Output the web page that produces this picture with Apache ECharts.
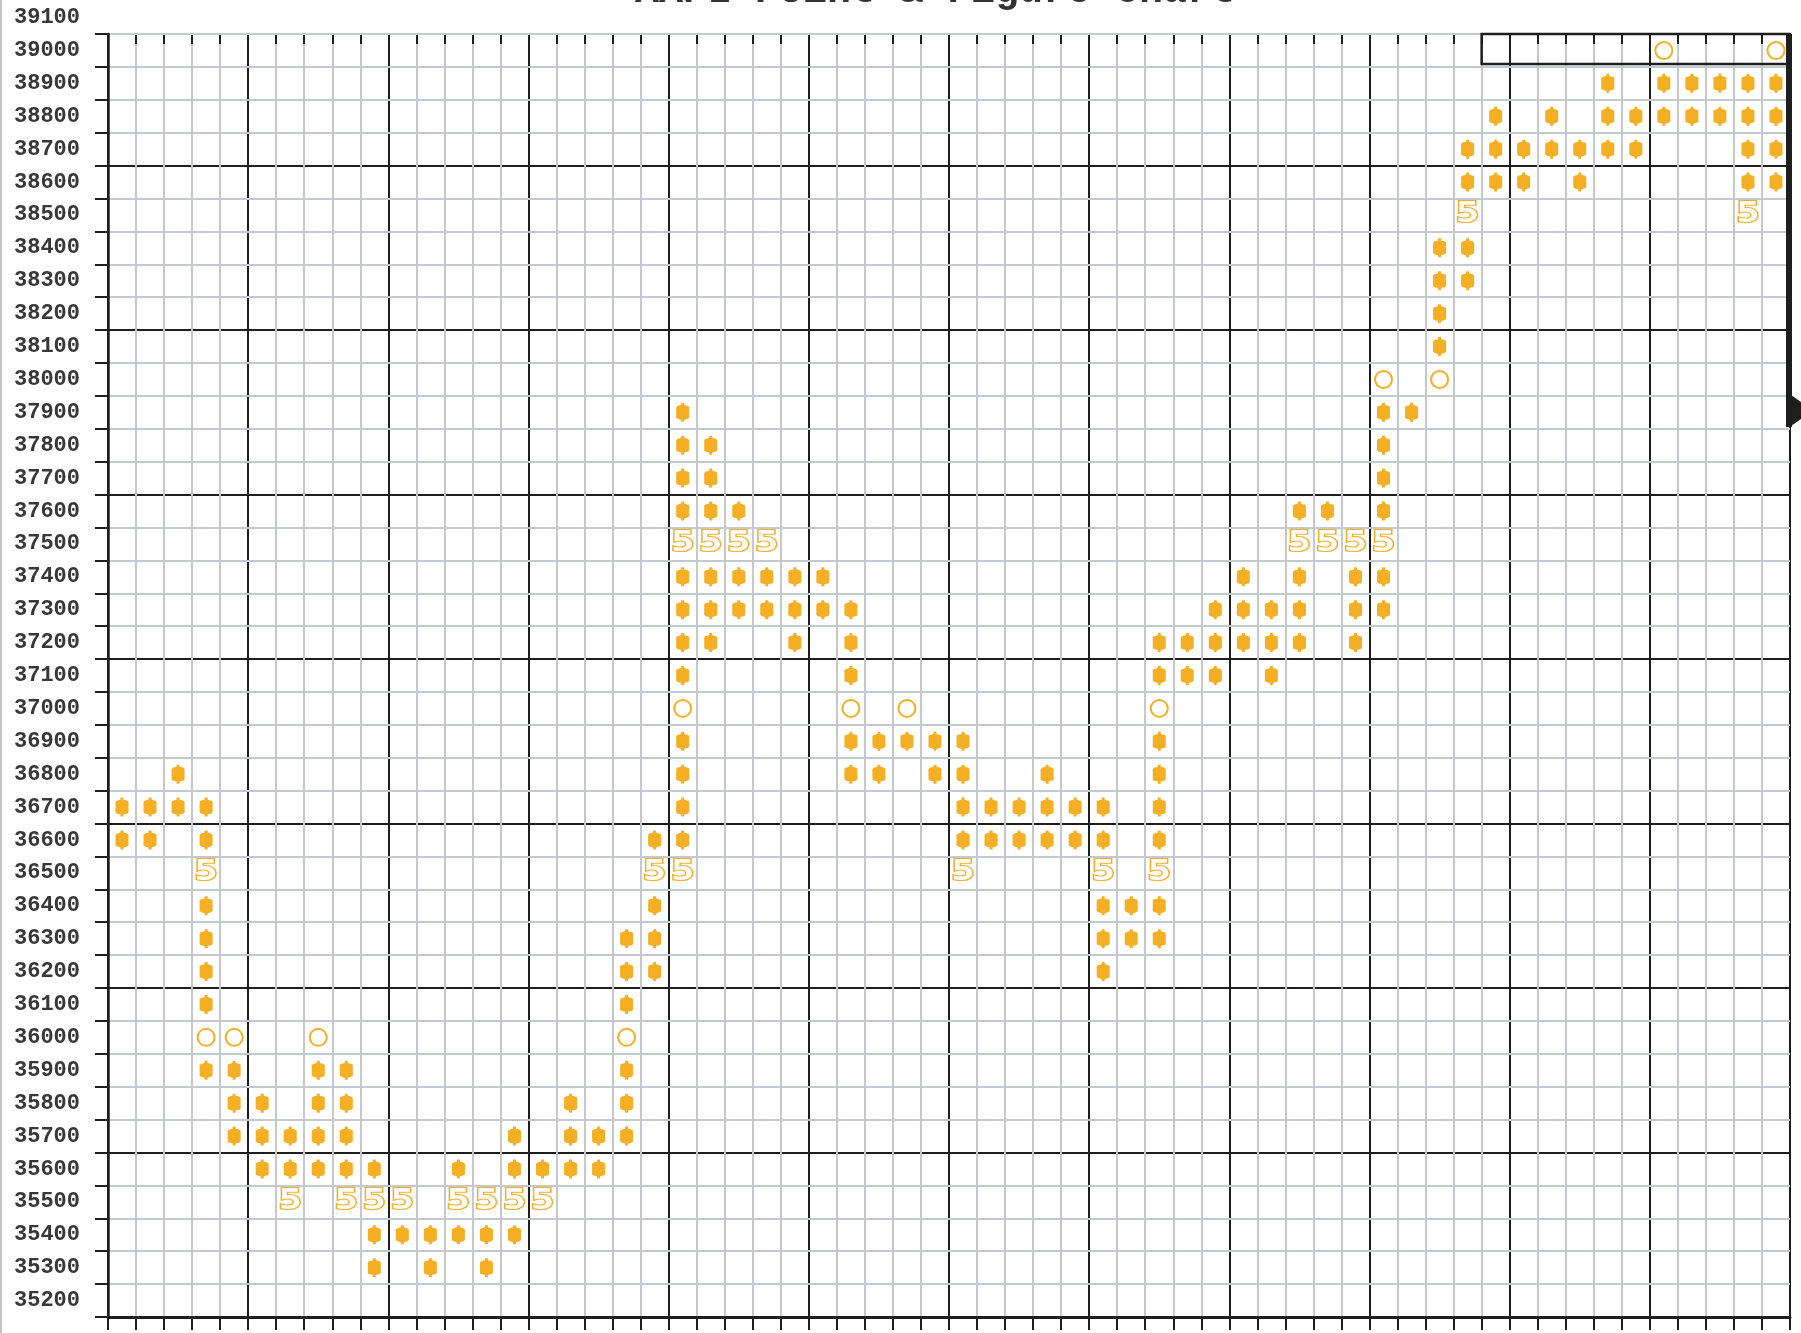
<!DOCTYPE html>
<html>
<head>
<meta charset="utf-8">
<title>AAPL Point &amp; Figure Chart</title>
<script src="https://cdn.jsdelivr.net/npm/echarts@6/dist/echarts.min.js"></script>
<style>
  html, body { margin: 0; padding: 0; background: #fff; }
  #chart { width: 1801px; height: 1333px; }
</style>
</head>
<body>
<div id="chart"></div>
<script>
const chartTitle = "AAPL Point & Figure Chart";

// price rows, bottom -> top (one box = 100)
const priceRows = [
  "35200", "35300", "35400", "35500", "35600", "35700", "35800", "35900", "36000", "36100",
  "36200", "36300", "36400", "36500", "36600", "36700", "36800", "36900", "37000", "37100",
  "37200", "37300", "37400", "37500", "37600", "37700", "37800", "37900", "38000", "38100",
  "38200", "38300", "38400", "38500", "38600", "38700", "38800", "38900", "39000",
];
const topLabel = ["39100"];

// X boxes, one list per column (60 columns)
const xCols = [
  [36700, 36600],
  [36700, 36600],
  [36800, 36700],
  [36700, 36600, 36400, 36300, 36200, 36100, 35900],
  [35900, 35800, 35700],
  [35800, 35700, 35600],
  [35700, 35600],
  [35900, 35800, 35700, 35600],
  [35900, 35800, 35700, 35600],
  [35600, 35400, 35300],
  [35400],
  [35400, 35300],
  [35600, 35400],
  [35400, 35300],
  [35700, 35600, 35400],
  [35600],
  [35800, 35700, 35600],
  [35700, 35600],
  [36300, 36200, 36100, 35900, 35800, 35700],
  [36600, 36400, 36300, 36200],
  [37900, 37800, 37700, 37600, 37400, 37300, 37200, 37100, 36900, 36800, 36700, 36600],
  [37800, 37700, 37600, 37400, 37300, 37200],
  [37600, 37400, 37300],
  [37400, 37300],
  [37400, 37300, 37200],
  [37400, 37300],
  [37300, 37200, 37100, 36900, 36800],
  [36900, 36800],
  [36900],
  [36900, 36800],
  [36900, 36800, 36700, 36600],
  [36700, 36600],
  [36700, 36600],
  [36800, 36700, 36600],
  [36700, 36600],
  [36700, 36600, 36400, 36300, 36200],
  [36400, 36300],
  [37200, 37100, 36900, 36800, 36700, 36600, 36400, 36300],
  [37200, 37100],
  [37300, 37200, 37100],
  [37400, 37300, 37200],
  [37300, 37200, 37100],
  [37600, 37400, 37300, 37200],
  [37600],
  [37400, 37300, 37200],
  [37900, 37800, 37700, 37600, 37400, 37300],
  [37900],
  [38400, 38300, 38200, 38100],
  [38700, 38600, 38400, 38300],
  [38800, 38700, 38600],
  [38700, 38600],
  [38800, 38700],
  [38700, 38600],
  [38900, 38800, 38700],
  [38800, 38700],
  [38900, 38800],
  [38900, 38800],
  [38900, 38800],
  [38900, 38800, 38700, 38600],
  [38900, 38800, 38700, 38600],
];

// O boxes [column, price]
const oMarks = [
  [3, 36000], [4, 36000], [7, 36000], [18, 36000],
  [20, 37000], [26, 37000], [28, 37000], [37, 37000],
  [45, 38000], [47, 38000], [55, 39000], [59, 39000],
];

// month markers "5" [column, price]
const fiveMarks = [
  [6, 35500], [8, 35500], [9, 35500], [10, 35500], [12, 35500], [13, 35500], [14, 35500], [15, 35500],
  [3, 36500], [19, 36500], [20, 36500], [30, 36500], [35, 36500], [37, 36500],
  [20, 37500], [21, 37500], [22, 37500], [23, 37500], [42, 37500], [43, 37500], [44, 37500], [45, 37500],
  [48, 38500], [58, 38500],
];

const columns = Array.from({ length: xCols.length }, (_, i) => String(i + 1));

const ORANGE = "#F4AF25";
const DARK = "#1e1e1e";
const LIGHT = "#C5C9CF";
const gridLeft = 108, gridTop = 34, gridRight = 11, gridBottom = 16;
const gridW = 1801 - gridLeft - gridRight;
const colW = gridW / columns.length;
const rowH = (1333 - gridTop - gridBottom) / priceRows.length;

const xData = [];
xCols.forEach((prices, c) => prices.forEach((p) => xData.push([c, String(p)])));
const oData = oMarks.map((d) => [d[0], String(d[1])]);
const fiveData = fiveMarks.map((d) => [d[0], String(d[1])]);

const labelStyle = {
  fontFamily: "Liberation Mono",
  fontWeight: "bold",
  fontSize: 22,
  color: "#383838",
  margin: 28,
};

const option = {
  animation: false,
  backgroundColor: "#fff",
  title: {
    text: chartTitle,
    left: 635,
    top: -28,
    padding: 0,
    textStyle: {
      fontFamily: "Liberation Mono",
      fontWeight: "bold",
      fontSize: 40,
      color: "#333",
    },
  },
  grid: [
    { left: gridLeft, top: gridTop, right: gridRight, bottom: gridBottom },
    { left: gridLeft, top: gridTop - rowH, right: gridRight, height: rowH },
  ],
  xAxis: [
    {
      type: "category",
      data: columns,
      gridIndex: 0,
      z: 1,
      axisLine: { show: true, lineStyle: { color: DARK, width: 3 } },
      axisTick: { show: true, interval: 0, length: 13, lineStyle: { color: DARK, width: 2 } },
      axisLabel: { show: false },
      splitLine: {
        show: true,
        interval: (i) => i % 5 !== 0,
        lineStyle: { color: LIGHT, width: 2 },
      },
    },
    {
      type: "category",
      data: columns,
      gridIndex: 0,
      z: 2,
      axisLine: { show: false },
      axisTick: { show: true, interval: 0, inside: true, length: 10, lineStyle: { color: DARK, width: 2 } },
      axisLabel: { show: false },
      splitLine: {
        show: true,
        interval: (i) => i % 5 === 0,
        lineStyle: { color: DARK, width: 2 },
      },
    },
    { type: "category", data: columns, gridIndex: 1, show: false },
  ],
  yAxis: [
    {
      type: "category",
      data: priceRows,
      gridIndex: 0,
      z: 3,
      axisLine: { show: true, lineStyle: { color: DARK, width: 2.5 } },
      axisTick: { show: true, interval: 0, length: 13, lineStyle: { color: DARK, width: 2 } },
      axisLabel: Object.assign({ interval: 0 }, labelStyle),
      splitLine: {
        show: true,
        interval: (i) => i % 5 !== 0,
        lineStyle: { color: LIGHT, width: 2 },
      },
    },
    {
      type: "category",
      data: priceRows,
      gridIndex: 0,
      z: 0,
      axisLine: { show: false },
      axisTick: { show: true, interval: 0, inside: true, length: 10, lineStyle: { color: DARK, width: 2 } },
      axisLabel: { show: false },
      splitLine: {
        show: true,
        showMaxLine: false,
        interval: (i) => i % 5 === 0,
        lineStyle: { color: DARK, width: 2 },
      },
    },
    {
      type: "category",
      data: topLabel,
      gridIndex: 1,
      axisLine: { show: false },
      axisTick: { show: false },
      splitLine: { show: false },
      axisLabel: labelStyle,
    },
  ],
  series: [
    {
      name: "X",
      type: "scatter",
      z: 10,
      data: xData,
      symbol: "path://M5,0 L8,0 L8,2 L12,3 L13,4 L13,14 L12,15 L8,16 L8,18 L5,18 L5,16 L1,15 L0,14 L0,4 L1,3 L5,2 Z",
      symbolSize: [13, 19],
      itemStyle: { color: ORANGE, opacity: 1 },
    },
    {
      name: "O",
      type: "scatter",
      z: 10,
      data: oData,
      symbol: "circle",
      symbolSize: 17,
      itemStyle: { color: "#fff", borderColor: ORANGE, borderWidth: 2, opacity: 1 },
    },
    {
      name: "5",
      type: "custom",
      z: 10,
      data: fiveData,
      renderItem: (params, api) => {
        const p = api.coord([api.value(0), api.value(1)]);
        return {
          type: "text",
          x: p[0],
          y: p[1],
          scaleX: 1.4,
          style: {
            text: "5",
            font: 'bold 28px "DejaVu Sans Mono"',
            align: "center",
            verticalAlign: "middle",
            fill: "#fff",
            stroke: ORANGE,
            lineWidth: 2.2,
          },
        };
      },
    },
  ],
  graphic: [
    {
      type: "rect",
      z: 100,
      shape: { x: gridLeft + 49 * colW, y: gridTop, width: colW * 11, height: rowH - 3 },
      style: { fill: null, stroke: DARK, lineWidth: 2.5 },
    },
    {
      type: "rect",
      z: 100,
      shape: { x: 1786, y: gridTop, width: 6, height: 393 },
      style: { fill: DARK },
    },
    {
      type: "polygon",
      z: 100,
      shape: { points: [[1791, 395], [1801, 402], [1801, 419], [1791, 426]] },
      style: { fill: DARK },
    },
    {
      type: "rect",
      z: 100,
      shape: { x: 0, y: 0, width: 2, height: 1333 },
      style: { fill: "#C4C4C4" },
    },
  ],
};

const chart = echarts.init(document.getElementById("chart"));
chart.setOption(option);
</script>
</body>
</html>
